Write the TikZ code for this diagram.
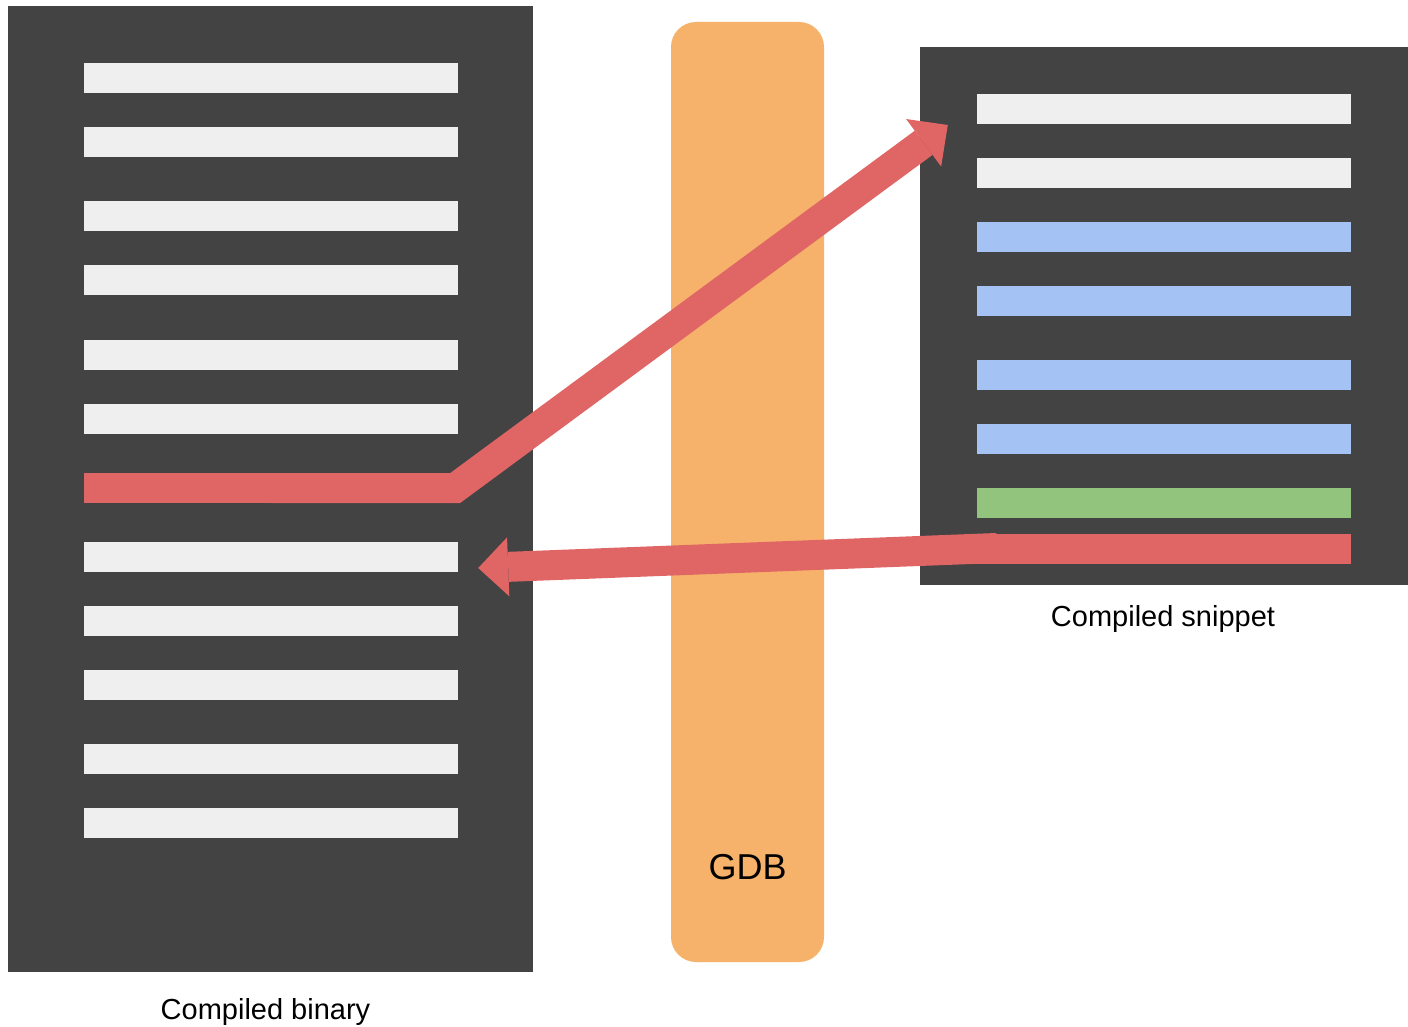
\documentclass[tikz,border=0pt]{standalone}
\usepackage{fontspec}
\setmainfont{Liberation Sans}
\usetikzlibrary{arrows.meta}

\definecolor{panelgray}{HTML}{434343}
\definecolor{codewhite}{HTML}{EFEFEF}
\definecolor{jumpred}{HTML}{E06666}
\definecolor{snipblue}{HTML}{A4C2F4}
\definecolor{snipgreen}{HTML}{93C47D}
\definecolor{gdborange}{HTML}{F6B26B}

\begin{document}
\begin{tikzpicture}[x=1pt,y=-1pt,%
        box/.style={rectangle,fill=panelgray,inner sep=0pt},
        bar/.style={rectangle,fill=codewhite,inner sep=0pt,%
          minimum width=374pt,minimum height=30pt},
        gdb/.style={rectangle,fill=gdborange,rounded corners=25pt,%
          minimum width=153pt,minimum height=940pt},
        jump/.style={draw=jumpred,line width=30pt,line join=miter,%
          -{Triangle[length=30pt,width=59pt,line width=0pt]}},
        caption/.style={font=\fontsize{29}{35}\selectfont}]

      \fill[white] (0,0) rectangle (1408,1027);
      \useasboundingbox (0,0) rectangle (1408,1027);

      % the binary
      \node[box,minimum width=525pt,minimum height=966pt] (bin) at (270.5,489) {};
      \node[bar]              (b1)  at (271,78)                       {};
      \node[bar]              (b2)  [below of=b1,node distance=64pt]  {};
      \node[bar]              (b3)  [below of=b2,node distance=74pt]  {};
      \node[bar]              (b4)  [below of=b3,node distance=64pt]  {};
      \node[bar]              (b5)  [below of=b4,node distance=75pt]  {};
      \node[bar]              (b6)  [below of=b5,node distance=64pt]  {};
      \node[bar,fill=jumpred] (b7)  [below of=b6,node distance=69pt]  {};
      \node[bar]              (b8)  [below of=b7,node distance=69pt]  {};
      \node[bar]              (b9)  [below of=b8,node distance=64pt]  {};
      \node[bar]              (b10) [below of=b9,node distance=64pt]  {};
      \node[bar]              (b11) [below of=b10,node distance=74pt] {};
      \node[bar]              (b12) [below of=b11,node distance=64pt] {};
      \node[caption,xshift=-5pt] (binname) [below of=bin,node distance=523pt] {Compiled binary};

      % gdb in the middle
      \node[gdb]              (gdb) at (747.5,492)                    {};
      \node[font=\fontsize{36}{43}\selectfont] (gdbname) [below of=gdb,node distance=375pt] {GDB};

      % the snippet
      \node[box,minimum width=488pt,minimum height=538pt] (snip) at (1164,316) {};
      \node[bar]                (r1) at (1164,109)                    {};
      \node[bar]                (r2) [below of=r1,node distance=64pt] {};
      \node[bar,fill=snipblue]  (r3) [below of=r2,node distance=64pt] {};
      \node[bar,fill=snipblue]  (r4) [below of=r3,node distance=64pt] {};
      \node[bar,fill=snipblue]  (r5) [below of=r4,node distance=74pt] {};
      \node[bar,fill=snipblue]  (r6) [below of=r5,node distance=64pt] {};
      \node[bar,fill=snipgreen] (r7) [below of=r6,node distance=64pt] {};
      \node[bar,fill=jumpred]   (r8) [below of=r7,node distance=46pt] {};
      \node[caption,xshift=-1pt] (snipname) [below of=snip,node distance=303pt] {Compiled snippet};

      \coordinate (turn) at ([xshift=-3pt]b7.east);
      \coordinate (into) at ([shift={(-29,16)}]r1.west);
      \coordinate (out)  at ([shift={(20,-1)}]r8.west);
      \coordinate (back) at ([shift={(20,11)}]b8.east);

      \draw[jump] (b7.center) -- (turn) -- (into);
      \draw[jump] (out) -- (back);

    \end{tikzpicture}
\end{document}
